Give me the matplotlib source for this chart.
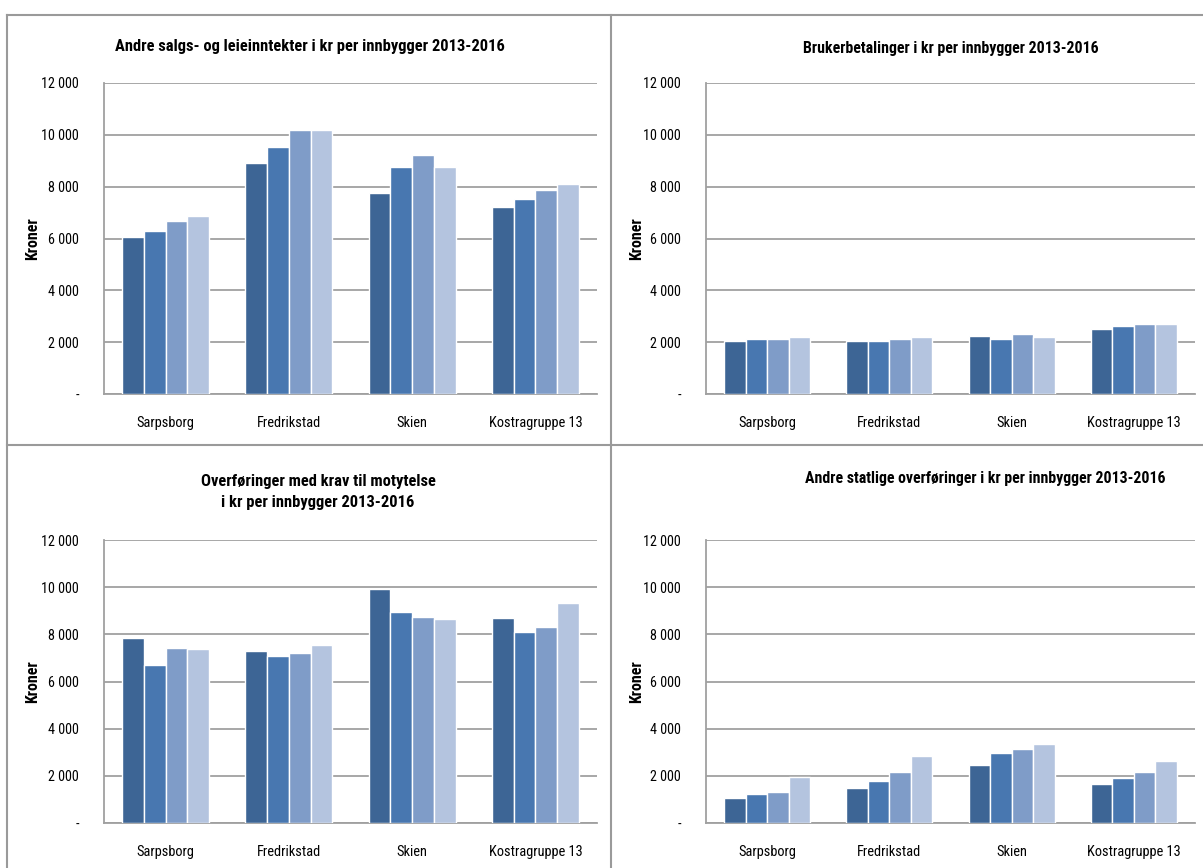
import matplotlib
matplotlib.use("Agg")
import matplotlib.pyplot as plt
import numpy as np
from matplotlib.ticker import FuncFormatter
from matplotlib import font_manager

avail = {f.name for f in font_manager.fontManager.ttflist}
fam = None
for cand in ["Liberation Sans Narrow", "Roboto Condensed", "Open Sans Condensed", "Lato"]:
    if cand in avail:
        fam = cand
        break
if fam is None:
    fam = "DejaVu Sans"
plt.rcParams['font.family'] = [fam, 'DejaVu Sans']

categories = ["Sarpsborg", "Fredrikstad", "Skien", "Kostragruppe 13"]
years = ["2013", "2014", "2015", "2016"]

titles = [
    "Andre salgs- og leieinntekter i kr per innbygger 2013-2016",
    "Brukerbetalinger i kr per innbygger 2013-2016",
    "Overføringer med krav til motytelse\ni kr per innbygger 2013-2016",
    "Andre statlige overføringer i kr per innbygger 2013-2016",
]

# values per category, per year (2013..2016)
salg = [[6050, 6280, 6660, 6880],
        [8920, 9530, 10190, 10190],
        [7770, 8750, 9210, 8750],
        [7200, 7540, 7870, 8090]]
bruker = [[2030, 2130, 2130, 2190],
          [2030, 2030, 2130, 2190],
          [2250, 2130, 2300, 2190],
          [2520, 2640, 2690, 2690]]
overf = [[7850, 6690, 7430, 7370],
         [7310, 7080, 7190, 7540],
         [9920, 8940, 8750, 8640],
         [8700, 8090, 8330, 9310]]
statlig = [[1060, 1240, 1310, 1960],
           [1480, 1790, 2160, 2820],
           [2460, 2950, 3140, 3360],
           [1670, 1910, 2160, 2640]]

datasets = [salg, bruker, overf, statlig]
colors = ["#3D6595", "#4877B0", "#7F9CC8", "#B4C4DF"]

W, H = 1203, 868
fig = plt.figure(figsize=(W / 100, H / 100), dpi=100)
renderer = fig.canvas.get_renderer()

# axes boxes in pixels: left, top, right, bottom
boxes = [(104, 83, 597, 394), (706, 83, 1195, 394),
         (104, 540, 597, 823), (706, 540, 1195, 823)]
title_pos = [(310, 47), (951, 48), (318, 492), (985, 479)]
title_w = [390, 297, 234, 362]
ylab_x = [33, 637, 33, 637]

def fmt(v, pos):
    if v == 0:
        return "-"
    return f"{int(v):,}".replace(",", " ")

def fitted(txt, target_w, base=11.0):
    t = fig.text(0, 0, txt, fontsize=base, fontweight="bold")
    w = t.get_window_extent(renderer).width
    t.remove()
    return base * target_w / w

def fit_plain(txt, target_w, base=11.0):
    t = fig.text(0, 0, txt, fontsize=base)
    w = t.get_window_extent(renderer).width
    t.remove()
    return base * target_w / w

cat_fs = fit_plain("Kostragruppe 13", 94)
tick_fs = fit_plain("12 000", 38)
ylab_fs = fitted("Kroner", 43)

for i, (l, t, r, b) in enumerate(boxes):
    ax = fig.add_axes([l / W, 1 - b / H, (r - l) / W, (b - t) / H])
    data = np.array(datasets[i])
    x = np.arange(len(categories))
    bw = 0.176
    for j in range(len(years)):
        ax.bar(x + (j - 1.5) * bw, data[:, j], width=bw, color=colors[j],
               edgecolor="white", linewidth=1.0, zorder=3)
    ax.set_xlim(-0.5, len(categories) - 0.5)
    ax.set_ylim(0, 12000)
    ax.set_yticks(np.arange(0, 12001, 2000))
    ax.yaxis.set_major_formatter(FuncFormatter(fmt))
    ax.grid(axis="y", color="#A0A0A0", linewidth=1.3, zorder=0)
    for s in ["top", "right"]:
        ax.spines[s].set_visible(False)
    for s in ["left", "bottom"]:
        ax.spines[s].set_color("#A0A0A0")
        ax.spines[s].set_linewidth(1.3)
    ax.set_xticks(x)
    ax.set_xticklabels(categories, fontsize=cat_fs)
    ax.tick_params(axis="x", length=0, pad=16)
    ax.tick_params(axis="y", length=0, pad=18, labelsize=tick_fs)
    ax.set_facecolor("white")
    tx, ty = title_pos[i]
    first_line = titles[i].split("\n")[0]
    fs = fitted(first_line, title_w[i])
    fig.text(tx / W, 1 - ty / H, titles[i], ha="center", va="center",
             fontsize=fs, fontweight="bold", linespacing=1.55)
    fig.text(ylab_x[i] / W, 1 - ((t + b) / 2) / H, "Kroner", rotation=90,
             ha="center", va="center", fontsize=ylab_fs, fontweight="bold")

# spreadsheet cell borders
line_kw = dict(color="#9A9A9A", linewidth=1.5)
fig.add_artist(plt.Line2D([7 / W, 1], [1 - 15 / H, 1 - 15 / H], transform=fig.transFigure, **line_kw))
fig.add_artist(plt.Line2D([7 / W, 7 / W], [0, 1 - 15 / H], transform=fig.transFigure, **line_kw))
fig.add_artist(plt.Line2D([611 / W, 611 / W], [0, 1 - 15 / H], transform=fig.transFigure, **line_kw))
fig.add_artist(plt.Line2D([7 / W, 1], [1 - 445 / H, 1 - 445 / H], transform=fig.transFigure, **line_kw))

fig.savefig("out.png", dpi=100, facecolor="white")
